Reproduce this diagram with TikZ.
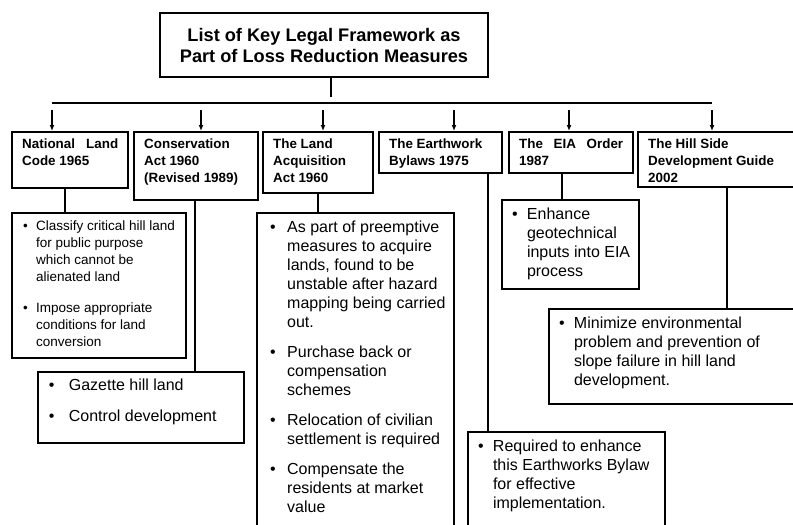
\documentclass[tikz,border=0pt]{standalone}
\usepackage{fontspec}
\setmainfont{Liberation Sans}
\usetikzlibrary{arrows.meta}

% one bullet point with a hanging indent: #1 bullet offset, #2 text offset
\newcommand{\bulletline}[3]{\par\noindent\hangindent=#2\hangafter=1\makebox[#2][l]{\hspace{#1}\textbullet}#3}
% text held at the top of a box of fixed size
\newcommand{\textcell}[3]{\parbox[t][#1][t]{#2}{#3}}

\tikzset{
  head/.style={draw, line width=2.4pt, anchor=north west, inner xsep=10pt, inner ysep=7pt, font=\bfseries\fontsize{13.4}{16.7}\selectfont},
  note/.style={draw, line width=2pt, anchor=north west, inner xsep=5pt, inner ysep=8pt, font=\fontsize{16}{19}\selectfont},
  link/.style={line width=1.8pt},
  drop/.style={->, line width=1.2pt},
}

\begin{document}
\begin{tikzpicture}[x=1pt, y=-1pt, >={Latex[length=6pt,width=5pt]}]
\useasboundingbox (0,0) rectangle (793,525);
\clip (0,0) rectangle (793,525);

% title and the bus under it
\node[draw, line width=2.4pt, minimum width=328pt, minimum height=64pt, align=center, font=\bfseries\fontsize{18.2}{21}\selectfont] (title) at (324,45) {List of Key Legal Framework as\\Part of Loss Reduction Measures};
\coordinate (fork) at (331,97);
\coordinate (busL) at (52,103);
\coordinate (busR) at (712,103);
\draw[link] (title.south -| fork) -- (fork);
\draw[link] (busL) -- (busR);

% the six acts
\node[head] (natl) at (11,131) {\textcell{42pt}{96pt}{National\hfill Land\\Code 1965}};
\node[head] (cons) at (133,131) {\textcell{54pt}{104pt}{Conservation\\Act 1960\\(Revised 1989)}};
\node[head] (acq) at (262,131) {\textcell{47pt}{90pt}{The Land\\Acquisition\\Act 1960}};
\node[head] (earth) at (378,131) {\textcell{27pt}{103pt}{The Earthwork\\Bylaws 1975}};
\node[head] (eia) at (508,131) {\textcell{27pt}{104pt}{The\hfill EIA\hfill Order\\1987}};
\node[head] (hill) at (637,131) {\textcell{41pt}{143pt}{The Hill Side\\Development Guide\\2002}};

\foreach \x/\n in {52/natl,201/cons,323/acq,454/earth,569/eia,712/hill}{
  \coordinate (a\n) at (\x,110);
  \draw[drop] (a\n) -- (a\n |- \n.north);
}

% what each act does
\node[note, line width=2.4pt, font=\fontsize{13.5}{16.7}\selectfont] (clsbox) at (11,212) {\textcell{129pt}{164pt}{%
  \bulletline{6pt}{19pt}{Classify critical hill land\\for public purpose\\which cannot be\\alienated land}\par\vspace{15pt}%
  \bulletline{6pt}{19pt}{Impose appropriate\\conditions for land\\conversion}}};
\node[note, line width=1.8pt, inner ysep=7pt] (gazbox) at (37,371) {\textcell{57pt}{196pt}{%
  \bulletline{6pt}{26pt}{Gazette hill land}\par\vspace{12pt}%
  \bulletline{6pt}{26pt}{Control development}}};
\node[note, line width=2.4pt] (acqbox) at (256,212) {\textcell{317pt}{187pt}{%
  \bulletline{8pt}{25pt}{As part of preemptive\\measures to acquire\\lands, found to be\\unstable after hazard\\mapping being carried\\out.}\par\vspace{11pt}%
  \bulletline{8pt}{25pt}{Purchase back or\\compensation\\schemes}\par\vspace{11pt}%
  \bulletline{8pt}{25pt}{Relocation of civilian\\settlement is required}\par\vspace{11pt}%
  \bulletline{8pt}{25pt}{Compensate the\\residents at market\\value}}};
\node[note] (eiabox) at (501,199) {\textcell{73pt}{127pt}{%
  \bulletline{5pt}{20pt}{Enhance\\geotechnical\\inputs into EIA\\process}}};
\node[note] (minbox) at (548,308) {\textcell{79pt}{242pt}{%
  \bulletline{5pt}{20pt}{Minimize environmental\\problem and prevention of\\slope failure in hill land\\development.}}};
\node[note] (reqbox) at (467,431) {\textcell{98pt}{187pt}{%
  \bulletline{5pt}{20pt}{Required to enhance\\this Earthworks Bylaw\\for effective\\implementation.}}};

\foreach \n/\b/\x in {natl/clsbox/65,cons/gazbox/195,acq/acqbox/318,earth/reqbox/488,eia/eiabox/562,hill/minbox/727}{
  \coordinate (s\n) at (\x,0);
  \draw[link] (s\n |- \n.south) -- (s\n |- \b.north);
}
\end{tikzpicture}
\end{document}
